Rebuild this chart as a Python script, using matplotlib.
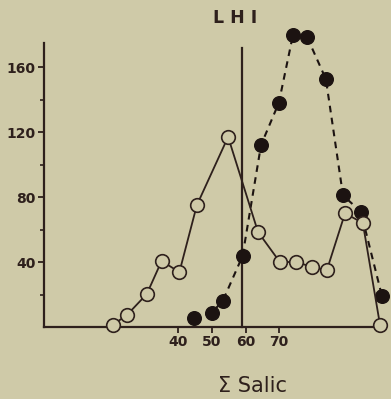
import matplotlib
matplotlib.use("Agg")
import matplotlib.pyplot as plt

# open circles, solid line
open_x = [20.4, 24.7, 30.6, 35.0, 40.3, 45.5, 54.8, 63.7, 70.2, 75.0, 79.8, 84.2, 89.6, 94.9, 100.0]
open_y = [1.2, 7.4, 20.3, 40.6, 33.8, 75.0, 117.0, 58.5, 40.0, 40.0, 37.0, 35.0, 70.0, 64.0, 1.5]

# filled circles, dashed line
fill_x = [44.6, 49.9, 53.2, 59.1, 64.6, 69.9, 74.1, 78.3, 83.9, 89.0, 94.3, 100.6]
fill_y = [5.5, 8.8, 16.0, 43.7, 112.0, 138.0, 179.7, 178.5, 152.6, 81.0, 71.0, 19.0]

lhi_x = 59.0
lhi_top = 171.7

y_major = [40, 80, 120, 160]
y_minor = [20, 60, 100, 140]
x_ticks = [40, 50, 60, 70]

BG = "#cfcaa8"
INK = "#2e201c"
DOT = "#1c1311"

fig = plt.figure(figsize=(3.91, 3.99), dpi=100, facecolor=BG)
ax = fig.add_axes([44 / 391, (399 - 327) / 399, (385 - 44) / 391, (327 - 43) / 399])
ax.set_facecolor(BG)

ax.plot(fill_x, fill_y, color=DOT, lw=1.5, ls=(0, (3.2, 2.6)), marker="o",
        ms=9.8, mfc=DOT, mec=DOT, clip_on=False, zorder=3)
ax.plot(open_x, open_y, color=INK, lw=1.3, ls="-", marker="o",
        ms=9.8, mfc=BG, mec=INK, mew=1.2, clip_on=False, zorder=4)
ax.plot([lhi_x, lhi_x], [0, lhi_top], color=INK, lw=1.6, zorder=2, clip_on=False)

ax.set_xlim(0, 101.5)
ax.set_ylim(0, 174.8)

for s in ["top", "right"]:
    ax.spines[s].set_visible(False)
for s in ["left", "bottom"]:
    ax.spines[s].set_linewidth(1.6)
    ax.spines[s].set_color(INK)

ax.set_yticks(y_major)
ax.set_yticks(y_minor, minor=True)
ax.set_xticks(x_ticks)
ax.tick_params(axis="both", which="major", direction="out", length=4, width=1.3,
               color=INK, labelcolor=INK, pad=2)
ax.tick_params(axis="y", which="minor", direction="out", length=3, width=1.2, color=INK)
for lab in ax.get_xticklabels() + ax.get_yticklabels():
    lab.set_fontweight("bold")
    lab.set_fontsize(10)

fig.text(235 / 391, 1 - 18 / 399, "L H I", ha="center", va="center",
         fontsize=12.5, color=INK, fontweight="semibold")
fig.text(253 / 391, 1 - 386 / 399, "Σ Salic", ha="center", va="center",
         fontsize=15, color=INK)

fig.savefig("out.png", dpi=100, facecolor=BG)
